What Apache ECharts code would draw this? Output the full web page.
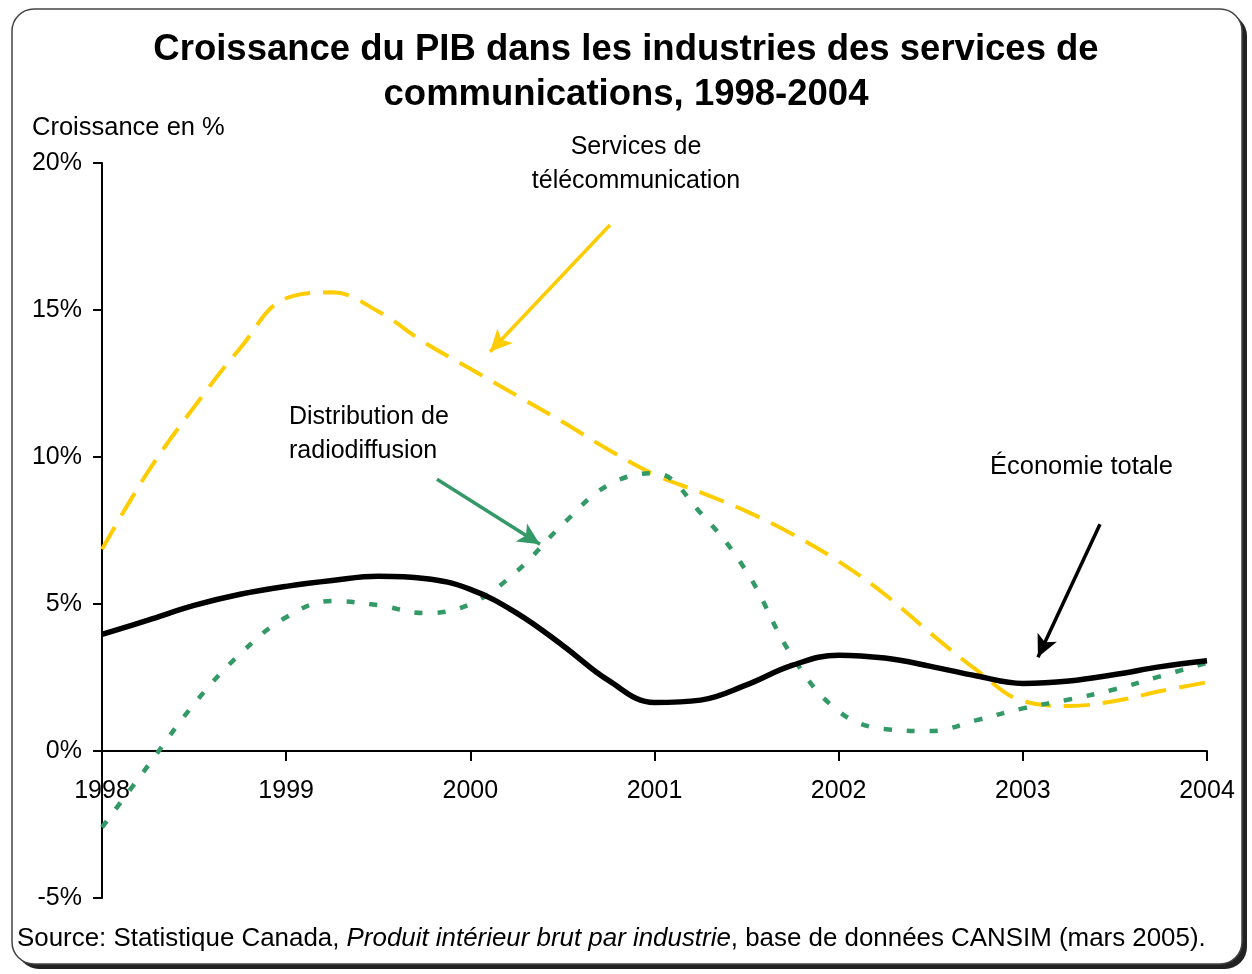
<!DOCTYPE html>
<html>
<head>
<meta charset="utf-8">
<script src="https://cdn.jsdelivr.net/npm/echarts@6/dist/echarts.min.js"></script>
<style>
  html, body { margin: 0; padding: 0; background: #fff; }
  #chart { width: 1252px; height: 974px; }
</style>
</head>
<body>
<div id="chart"></div>
<script>
// quarterly points, 1998 to 2004
const quarters = [1998, 1998.25, 1998.5, 1998.75, 1999, 1999.25, 1999.5, 1999.75,
  2000, 2000.25, 2000.5, 2000.75, 2001, 2001.25, 2001.5, 2001.75,
  2002, 2002.25, 2002.5, 2002.75, 2003, 2003.25, 2003.5, 2003.75, 2004];

const economieTotale = [3.97, 4.45, 4.95, 5.33, 5.6, 5.8, 5.94, 5.87,
  5.5, 4.7, 3.6, 2.4, 1.65, 1.73, 2.25, 2.92,
  3.26, 3.16, 2.88, 2.55, 2.3, 2.38, 2.6, 2.87, 3.07];

const telecom = [6.86, 9.5, 11.7, 13.7, 15.4, 15.6, 14.95, 13.9,
  13.0, 12.1, 11.2, 10.25, 9.4, 8.8, 8.15, 7.37,
  6.45, 5.33, 4.0, 2.75, 1.7, 1.53, 1.7, 2.04, 2.34];

const radiodiffusion = [-2.6, -0.5, 1.6, 3.3, 4.55, 5.1, 4.96, 4.69,
  5.0, 6.1, 7.7, 9.05, 9.45, 8.1, 6.1, 3.2,
  1.35, 0.75, 0.68, 1.05, 1.45, 1.75, 2.1, 2.55, 3.0];

const yearTicks = [1998, 1999, 2000, 2001, 2002, 2003, 2004];
const pctTicks = [-5, 0, 5, 10, 15, 20];

const FONT = 'Liberation Sans, Arial, sans-serif';
const pair = (vals) => quarters.map((q, i) => [q, vals[i]]);

const gridTop = 163, gridBottom = 76, H = 974;
const yMin = -5, yMax = 20;
// x axis sits on 0%, shift it up from the bottom of the grid
const plotH = H - gridTop - gridBottom;
const xOffset = -plotH * (0 - yMin) / (yMax - yMin);

const chart = echarts.init(document.getElementById('chart'));

const arrowLine = (from, to, color, width) => ({
  type: 'line', silent: true, animation: false, data: [],
  markLine: {
    silent: true,
    symbol: ['none', 'arrow'],
    symbolSize: [16, 22],
    label: { show: false },
    lineStyle: { color: color, width: width, type: 'solid' },
    data: [[{ coord: from }, { coord: to }]]
  }
});

chart.setOption({
  animation: false,
  backgroundColor: '#fff',
  title: {
    text: 'Croissance du PIB dans les industries des services de\ncommunications, 1998-2004',
    left: 'center',
    top: 22,
    textStyle: { fontFamily: FONT, fontSize: 36.5, fontWeight: 'bold', color: '#000', lineHeight: 45 }
  },
  grid: { left: 102, right: 45, top: gridTop, bottom: gridBottom },
  xAxis: {
    type: 'value',
    min: 1998, max: 2004, interval: 1,
    offset: xOffset,
    axisLine: { onZero: false, lineStyle: { color: '#000', width: 2 } },
    axisTick: { show: true, length: 10, lineStyle: { color: '#000', width: 2 } },
    axisLabel: { margin: 28, color: '#000', fontFamily: FONT, fontSize: 25,
      formatter: (v) => yearTicks.includes(v) ? String(v) : '' },
    splitLine: { show: false }
  },
  yAxis: {
    type: 'value',
    min: yMin, max: yMax, interval: 5,
    axisLine: { show: true, onZero: false, lineStyle: { color: '#000', width: 2 } },
    axisTick: { show: true, length: 9, lineStyle: { color: '#000', width: 2 } },
    axisLabel: { margin: 20, color: '#000', fontFamily: FONT, fontSize: 25,
      formatter: (v) => pctTicks.includes(v) ? v + '%' : '' },
    splitLine: { show: false }
  },
  graphic: [
    {
      type: 'rect', z: -11,
      shape: { x: 17, y: 14, width: 1230, height: 955, r: 22 },
      style: { fill: '#222' }
    },
    {
      type: 'rect', z: -10,
      shape: { x: 12, y: 9, width: 1230, height: 955, r: 22 },
      style: { fill: '#fff', stroke: '#444', lineWidth: 1.5 }
    },
    {
      type: 'text', left: 32, top: 115,
      style: { text: 'Croissance en %', font: '25.5px ' + FONT, fill: '#000' }
    },
    {
      type: 'text', x: 636, y: 130,
      style: { text: 'Services de\ntélécommunication', font: '25px ' + FONT, fill: '#000',
        align: 'center', lineHeight: 34 }
    },
    {
      type: 'text', x: 289, y: 400,
      style: { text: 'Distribution de\nradiodiffusion', font: '25px ' + FONT, fill: '#000',
        align: 'left', lineHeight: 34 }
    },
    {
      type: 'text', x: 990, y: 454,
      style: { text: 'Économie totale', font: '25.5px ' + FONT, fill: '#000', align: 'left' }
    },
    {
      type: 'text', x: 17, y: 926,
      style: {
        rich: { i: { fontStyle: 'italic', fontSize: 25.9, fontFamily: FONT, fill: '#000' } },
        text: 'Source: Statistique Canada, {i|Produit intérieur brut par industrie}, base de données CANSIM (mars 2005).',
        font: '25.9px ' + FONT, fill: '#000'
      }
    }
  ],
  series: [
    {
      name: 'Services de télécommunication',
      type: 'line', smooth: 0.4, showSymbol: false,
      data: pair(telecom),
      lineStyle: { color: '#FFCC00', width: 4, type: [26, 13] },
      z: 3
    },
    {
      name: 'Distribution de radiodiffusion',
      type: 'line', smooth: 0.4, showSymbol: false,
      data: pair(radiodiffusion),
      lineStyle: { color: '#339966', width: 4.5, type: [8, 15] },
      z: 4
    },
    {
      name: 'Économie totale',
      type: 'line', smooth: 0.4, showSymbol: false,
      data: pair(economieTotale),
      lineStyle: { color: '#000', width: 5.5, type: 'solid' },
      z: 5
    },
    arrowLine([2000.758, 17.89], [2000.107, 13.58], '#FFCC00', 3.5),
    arrowLine([1999.819, 9.24], [2000.378, 7.03], '#339966', 3.5),
    arrowLine([2003.419, 7.71], [2003.082, 3.19], '#000', 3.5)
  ]
});
</script>
</body>
</html>
